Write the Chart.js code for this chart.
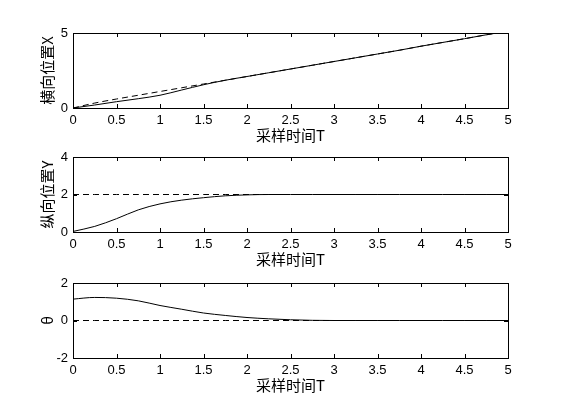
<!DOCTYPE html>
<html>
<head>
<meta charset="utf-8">
<script src="https://cdn.jsdelivr.net/npm/chart.js@4"></script>
<style>
    body { margin: 0; background: #fff; }
    .wrap { position: relative; width: 561px; height: 420px; background: #fff; }
    canvas { position: absolute; left: 0; }
</style>
</head>
<body>
<div class="wrap">
    <canvas id="chartX" width="561" height="130" style="top:20px"></canvas>
    <canvas id="chartY" width="561" height="130" style="top:144px"></canvas>
    <canvas id="chartTheta" width="561" height="130" style="top:270px"></canvas>
</div>
<script>
// sample times T
const timeT = [0, 0.25, 0.5, 0.75, 1, 1.25, 1.5, 1.75, 2, 2.25, 2.5, 2.75, 3, 3.25, 3.5, 3.75, 4, 4.25, 4.5, 4.75, 5];

// lateral position X
const refX = [0, 0.33, 0.6, 0.85, 1.1, 1.35, 1.6, 1.85, 2.1, 2.35, 2.6, 2.85, 3.1, 3.35, 3.6, 3.85, 4.12, 4.37, 4.62, 4.88, 5.13];
const posX = [0, 0.2, 0.42, 0.62, 0.85, 1.2, 1.55, 1.85, 2.1, 2.35, 2.6, 2.85, 3.1, 3.35, 3.6, 3.85, 4.12, 4.37, 4.62, 4.88, 5.13];

// longitudinal position Y
const refY = [2, 2, 2, 2, 2, 2, 2, 2, 2, 2, 2, 2, 2, 2, 2, 2, 2, 2, 2, 2, 2];
const posY = [0.03, 0.3, 0.71, 1.18, 1.5, 1.7, 1.83, 1.93, 1.98, 2, 2, 2, 2, 2, 2, 2, 2, 2, 2, 2, 2];

// heading angle theta
const refTheta = [0, 0, 0, 0, 0, 0, 0, 0, 0, 0, 0, 0, 0, 0, 0, 0, 0, 0, 0, 0, 0];
const posTheta = [1.14, 1.23, 1.19, 1.05, 0.8, 0.6, 0.4, 0.27, 0.16, 0.09, 0.04, 0.01, 0, 0, 0, 0, 0, 0, 0, 0, 0];

const xTicks = [0, 0.5, 1, 1.5, 2, 2.5, 3, 3.5, 4, 4.5, 5];
const xTitle = '采样时间T';

const tickFont = { family: "'Liberation Sans', Arial, sans-serif", size: 13 };
const titleFont = { family: "'Noto Sans CJK SC', 'Liberation Sans', sans-serif", size: 15 };

function toPoints(values) {
    return timeT.map((t, i) => ({ x: t, y: values[i] }));
}

// box frame with inward tick marks, MATLAB style
const boxPlugin = {
    id: 'box',
    afterDraw(chart) {
        const { ctx, chartArea: a, scales } = chart;
        ctx.save();
        ctx.strokeStyle = '#000';
        ctx.lineWidth = 1;
        ctx.strokeRect(a.left + 0.5, a.top + 0.5, a.right - a.left, a.bottom - a.top);
        ctx.beginPath();
        scales.x.ticks.forEach(t => {
            const px = Math.round(scales.x.getPixelForValue(t.value)) + 0.5;
            ctx.moveTo(px, a.bottom);
            ctx.lineTo(px, a.bottom - 4);
            ctx.moveTo(px, a.top);
            ctx.lineTo(px, a.top + 4);
        });
        scales.y.ticks.forEach(t => {
            const py = Math.round(scales.y.getPixelForValue(t.value)) + 0.5;
            ctx.moveTo(a.left, py);
            ctx.lineTo(a.left + 4, py);
            ctx.moveTo(a.right, py);
            ctx.lineTo(a.right - 4, py);
        });
        ctx.stroke();
        ctx.restore();
    }
};

function makeChart(id, solid, dashed, yMin, yMax, yStep, yTitle) {
    new Chart(document.getElementById(id), {
        type: 'line',
        data: {
            datasets: [{
                data: toPoints(dashed),
                borderColor: '#000',
                borderWidth: 1,
                borderDash: [6, 4],
                pointRadius: 0,
                cubicInterpolationMode: 'monotone'
            }, {
                data: toPoints(solid),
                borderColor: '#000',
                borderWidth: 1,
                pointRadius: 0,
                cubicInterpolationMode: 'monotone'
            }]
        },
        options: {
            responsive: false,
            animation: false,
            devicePixelRatio: 1,
            layout: { padding: { top: 13, right: 53, left: 0, bottom: 0 } },
            plugins: { legend: { display: false }, tooltip: { enabled: false } },
            scales: {
                x: {
                    type: 'linear',
                    min: 0,
                    max: 5,
                    afterFit: s => { s.height = 42; },
                    afterBuildTicks: s => { s.ticks = xTicks.map(v => ({ value: v })); },
                    grid: { display: false, drawTicks: false },
                    border: { display: false },
                    ticks: { color: '#000', font: tickFont, padding: 5, maxRotation: 0, callback: v => String(v) },
                    title: { display: true, text: xTitle, color: '#000', font: titleFont, padding: { top: 0, bottom: 6 } }
                },
                y: {
                    min: yMin,
                    max: yMax,
                    afterFit: s => { s.width = 73; },
                    grid: { display: false, drawTicks: false },
                    border: { display: false },
                    ticks: { color: '#000', font: tickFont, padding: 5, stepSize: yStep, callback: v => String(v) },
                    title: { display: true, text: yTitle, color: '#000', font: titleFont, padding: { top: 38, bottom: 0 } }
                }
            }
        },
        plugins: [boxPlugin]
    });
}

makeChart('chartX', posX, refX, 0, 5, 5, '横向位置X');
makeChart('chartY', posY, refY, 0, 4, 2, '纵向位置Y');
makeChart('chartTheta', posTheta, refTheta, -2, 2, 2, 'θ');
</script>
</body>
</html>
